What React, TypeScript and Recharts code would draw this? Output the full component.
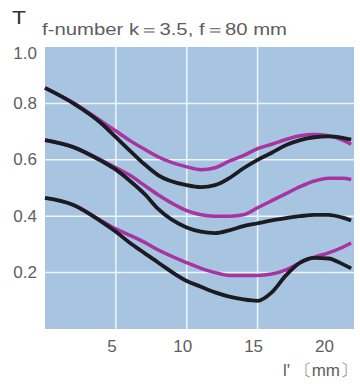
import React from 'react';
import { LineChart, Line, XAxis, YAxis, ReferenceLine, ReferenceArea } from 'recharts';

const xValues = [0, 2, 4, 5, 6, 7, 8, 10, 11, 12, 13, 14, 15, 16, 17, 18, 19, 20, 21, 21.6];
const blackTop = [0.855, 0.8, 0.728, 0.68, 0.632, 0.585, 0.545, 0.51, 0.503, 0.51, 0.535, 0.57, 0.6, 0.625, 0.652, 0.67, 0.68, 0.683, 0.678, 0.672];
const purpleTop = [0.855, 0.802, 0.736, 0.702, 0.668, 0.638, 0.61, 0.575, 0.565, 0.572, 0.595, 0.615, 0.64, 0.655, 0.672, 0.685, 0.69, 0.685, 0.67, 0.655];
const blackMid = [0.67, 0.645, 0.595, 0.565, 0.525, 0.48, 0.425, 0.36, 0.345, 0.34, 0.35, 0.365, 0.375, 0.385, 0.393, 0.4, 0.405, 0.405, 0.395, 0.385];
const purpleMid = [0.67, 0.645, 0.598, 0.572, 0.545, 0.51, 0.475, 0.42, 0.405, 0.4, 0.4, 0.405, 0.43, 0.455, 0.48, 0.505, 0.525, 0.535, 0.535, 0.53];
const blackLow = [0.465, 0.44, 0.38, 0.345, 0.305, 0.27, 0.235, 0.17, 0.15, 0.13, 0.115, 0.105, 0.1, 0.13, 0.19, 0.235, 0.252, 0.25, 0.23, 0.215];
const purpleLow = [0.465, 0.44, 0.383, 0.355, 0.332, 0.308, 0.28, 0.235, 0.215, 0.2, 0.19, 0.19, 0.19, 0.195, 0.21, 0.235, 0.255, 0.27, 0.29, 0.305];

const xTicks = [5, 10, 15, 20];
const yTicks = [0.2, 0.4, 0.6, 0.8, 1.0];
const gridX = [5, 10, 15];
const gridY = [0.2, 0.4, 0.6, 0.8];

const titleText = 'f-number k＝3.5, f＝80 mm';
const yAxisTitle = 'T';
const xAxisTitle = "l' 〔mm〕";

const data = xValues.map((x, i) => ({
  x,
  bt: blackTop[i],
  pt: purpleTop[i],
  bm: blackMid[i],
  pm: purpleMid[i],
  bl: blackLow[i],
  pl: purpleLow[i],
}));

const FONT = '"Liberation Sans", Arial, sans-serif';
const TEXT = '#5e5e5e';
const BLACK = '#1d1b22';
const PURPLE = '#a8349f';

const YTick = (props: any) => {
  const { x, y, payload } = props;
  const off = payload.value === 1 ? 6 : 0;
  return (
    <text x={x} y={y + off} textAnchor="end" dominantBaseline="central" fontSize={17} fill={TEXT} fontFamily={FONT}>
      {Number(payload.value).toFixed(1)}
    </text>
  );
};

const XTick = (props: any) => {
  const { x, y, payload } = props;
  return (
    <text x={x - 4} y={y} textAnchor="middle" dy="0.71em" fontSize={17} fill={TEXT} fontFamily={FONT}>
      {payload.value}
    </text>
  );
};

export default function App() {
  return (
    <div style={{ position: 'fixed', left: 0, top: 0, width: 360, height: 387, background: '#fff' }}>
      <LineChart width={360} height={387} data={data} margin={{ top: 47, right: 6, bottom: 0, left: 0 }}>
        <XAxis
          dataKey="x"
          type="number"
          domain={[0, 21.8]}
          ticks={xTicks}
          axisLine={false}
          tickLine={false}
          tickSize={0}
          tickMargin={11}
          height={58}
          tick={<XTick />}
        />
        <YAxis
          type="number"
          domain={[0, 1]}
          ticks={yTicks}
          axisLine={false}
          tickLine={false}
          tickSize={0}
          tickMargin={8}
          width={45}
          tick={<YTick />}
        />
        <ReferenceArea x1={0} x2={21.8} y1={0} y2={1} fill="#a7c5e1" fillOpacity={1} stroke="none" />
        {gridY.map((v) => (
          <ReferenceLine key={'gy' + v} y={v} stroke="#eef5fb" strokeWidth={1.5} />
        ))}
        {gridX.map((v) => (
          <ReferenceLine key={'gx' + v} x={v} stroke="#eef5fb" strokeWidth={1.5} />
        ))}
        <Line type="monotone" dataKey="pt" stroke={PURPLE} strokeWidth={3.5} dot={false} isAnimationActive={false} />
        <Line type="monotone" dataKey="pm" stroke={PURPLE} strokeWidth={3.5} dot={false} isAnimationActive={false} />
        <Line type="monotone" dataKey="pl" stroke={PURPLE} strokeWidth={3.5} dot={false} isAnimationActive={false} />
        <Line type="monotone" dataKey="bt" stroke={BLACK} strokeWidth={3.8} dot={false} isAnimationActive={false} />
        <Line type="monotone" dataKey="bm" stroke={BLACK} strokeWidth={3.8} dot={false} isAnimationActive={false} />
        <Line type="monotone" dataKey="bl" stroke={BLACK} strokeWidth={3.8} dot={false} isAnimationActive={false} />
      </LineChart>
      <svg width={360} height={387} style={{ position: 'absolute', left: 0, top: 0, pointerEvents: 'none' }}>
        <text x={12} y={24} fontSize={19} fill="#333" fontFamily={FONT} textLength={14} lengthAdjust="spacingAndGlyphs">
          {yAxisTitle}
        </text>
        <text x={42} y={35} fontSize={16} fill={TEXT} fontFamily={FONT} textLength={245} lengthAdjust="spacingAndGlyphs">
          {titleText}
        </text>
        <text x={283} y={376} fontSize={17} fill={TEXT} fontFamily={FONT} textLength={74} lengthAdjust="spacingAndGlyphs">
          {xAxisTitle}
        </text>
      </svg>
    </div>
  );
}
